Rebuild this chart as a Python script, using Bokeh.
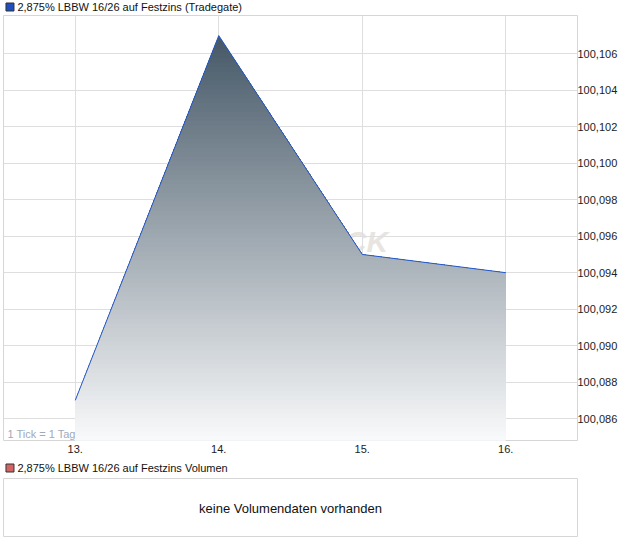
import numpy as np
from bokeh.plotting import figure
from bokeh.models import Range1d, FixedTicker, LinearAxis, Label, CustomJSTickFormatter
from bokeh.core.properties import value
from bokeh.layouts import column
from bokeh.embed import file_html
from bokeh.resources import INLINE

# ---- data ----
days = [13, 14, 15, 16]
day_labels = ["13.", "14.", "15.", "16."]
prices = [100.087, 100.107, 100.095, 100.094]
y_ticks = [100.086, 100.088, 100.090, 100.092, 100.094, 100.096,
           100.098, 100.100, 100.102, 100.104, 100.106]
title_main = "2,875% LBBW 16/26 auf Festzins (Tradegate)"
title_vol = "2,875% LBBW 16/26 auf Festzins Volumen"
no_vol_text = "keine Volumendaten vorhanden"
tick_note = "1 Tick = 1 Tag"

FONT = "Liberation Sans"
Y0, Y1 = 100.0848, 100.1081
W = 620


def header(h, text, sq_color, text_y):
    f = figure(width=W, height=h, x_range=Range1d(0, W), y_range=Range1d(h, 0),
               output_backend="svg", toolbar_location=None,
               min_border_left=0, min_border_right=0, min_border_top=0, min_border_bottom=0)
    f.axis.visible = False
    f.grid.visible = False
    f.outline_line_color = None
    f.scatter(x=[7], y=[text_y], marker="square", size=8, fill_color=sq_color,
              line_color="#333333", line_width=1)
    f.text(x=[15], y=[text_y], text=[text], text_font=value(FONT), text_font_size="11px",
           text_color="#111111", text_baseline="middle")
    return f


h1 = header(15, title_main, "#1f4fbf", 6.5)

p = figure(width=W, frame_height=425, x_range=Range1d(12.5, 16.5), y_range=Range1d(Y0, Y1),
           output_backend="svg", toolbar_location=None, y_axis_location=None,
           min_border_left=3, min_border_right=0, min_border_top=0, min_border_bottom=0)
p.outline_line_color = "#d6d6d6"

p.xaxis.ticker = FixedTicker(ticks=days)
p.xaxis.major_label_overrides = {d: l for d, l in zip(days, day_labels)}
p.xaxis.axis_line_color = None
p.xaxis.major_tick_line_color = None
p.xaxis.minor_tick_line_color = None
p.xaxis.major_tick_out = 0
p.xaxis.major_label_standoff = 4
p.xaxis.major_label_text_font = FONT
p.xaxis.major_label_text_font_size = "11px"
p.xaxis.major_label_text_color = "#222222"

yax = LinearAxis(ticker=FixedTicker(ticks=y_ticks),
                 formatter=CustomJSTickFormatter(code="return tick.toFixed(3).replace('.', ',');"))
yax.axis_line_color = None
yax.major_tick_line_color = None
yax.minor_tick_line_color = None
yax.major_tick_out = 0
yax.major_label_standoff = 0
yax.major_label_text_font = FONT
yax.major_label_text_font_size = "11px"
yax.major_label_text_color = "#222222"
p.add_layout(yax, "right")

p.xgrid.ticker = FixedTicker(ticks=days)
p.ygrid.ticker = FixedTicker(ticks=y_ticks)
p.grid.grid_line_color = "#dedede"
p.grid.grid_line_width = 1

# watermark + note (below glyphs)
p.add_layout(Label(x=15.18, y=100.0957, text="STOCK", text_align="right", text_baseline="middle",
                   text_font=FONT, text_font_size="30px", text_font_style="bold italic",
                   text_color="#e8e5e1", level="image"))
p.add_layout(Label(x=4, y=1, x_units="screen", y_units="screen", text=tick_note,
                   text_font=FONT, text_font_size="11px", text_color="#9fa9bb",
                   text_baseline="bottom", level="image"))

# gradient area: nested areas from top colour to bottom colour
xs = np.linspace(days[0], days[-1], 1201)
curve = np.interp(xs, days, prices)
top = max(prices)
c_top = np.array([71, 89, 104])
c_bot = np.array([250, 251, 252])
N = 90
for i in range(N, 0, -1):
    hi = Y0 + (top - Y0) * i / N
    t = i / N
    c = (c_bot + (c_top - c_bot) * t).astype(int)
    col = "#%02x%02x%02x" % tuple(c)
    p.varea(x=xs, y1=Y0, y2=np.minimum(curve, hi), fill_color=col, fill_alpha=1.0)

p.line(days, prices, line_color="#2458c8", line_width=1)

h2 = header(23, title_vol, "#d46464", 12.5)

v = figure(width=W, height=59, x_range=Range1d(0, 1), y_range=Range1d(0, 1),
           output_backend="svg", toolbar_location=None,
           min_border_left=3, min_border_right=42, min_border_top=0, min_border_bottom=0)
v.axis.visible = False
v.grid.visible = False
v.outline_line_color = "#d6d6d6"
v.add_layout(Label(x=0.5, y=0.5, text=no_vol_text, text_align="center", text_baseline="middle",
                   text_font=FONT, text_font_size="13px", text_color="#111111"))

layout = column(h1, p, h2, v, spacing=0)
open("out.html", "w").write(file_html(layout, INLINE))
